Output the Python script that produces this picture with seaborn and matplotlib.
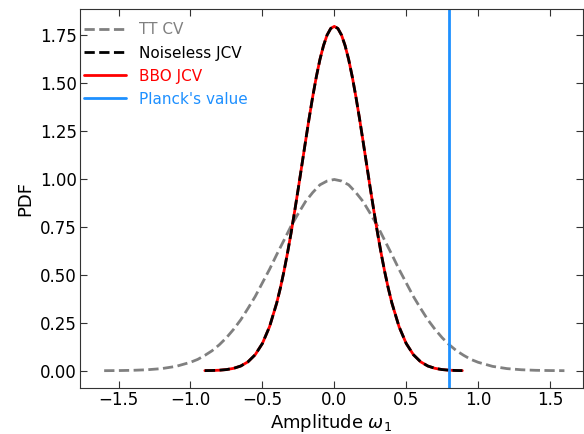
import numpy as np
import pandas as pd
import matplotlib
matplotlib.use("Agg")
import matplotlib.pyplot as plt
import seaborn as sns

# TT cosmic variance curve
tt_x = [-1.6, -1.5, -1.4, -1.3, -1.2, -1.1, -1.0, -0.95, -0.9, -0.85, -0.8, -0.75, -0.7,
        -0.65, -0.6, -0.55, -0.5, -0.45, -0.4, -0.35, -0.3, -0.25, -0.2, -0.15, -0.1,
        -0.05, 0.0, 0.05, 0.1, 0.15, 0.2, 0.25, 0.3, 0.35, 0.4, 0.45, 0.5, 0.55, 0.6,
        0.65, 0.7, 0.75, 0.8, 0.85, 0.9, 0.95, 1.0, 1.1, 1.2, 1.3, 1.4, 1.5, 1.6]
tt_pdf = [0.0003, 0.0009, 0.0022, 0.0051, 0.0111, 0.0228, 0.044, 0.059, 0.080, 0.104,
          0.135, 0.172, 0.216, 0.266, 0.325, 0.387, 0.458, 0.529, 0.606, 0.680, 0.755,
          0.820, 0.882, 0.929, 0.969, 0.989, 0.997, 0.989, 0.969, 0.929, 0.882, 0.820,
          0.755, 0.680, 0.606, 0.529, 0.458, 0.387, 0.325, 0.266, 0.216, 0.172, 0.135,
          0.104, 0.080, 0.059, 0.044, 0.0228, 0.0111, 0.0051, 0.0022, 0.0009, 0.0003]

# joint CV curves (noiseless and BBO lie on top of each other)
jcv_x = [-0.9, -0.85, -0.8, -0.75, -0.7, -0.65, -0.6, -0.55, -0.5, -0.45, -0.4, -0.375,
         -0.35, -0.325, -0.3, -0.275, -0.25, -0.225, -0.2, -0.175, -0.15, -0.125, -0.1,
         -0.075, -0.05, -0.025, 0.0, 0.025, 0.05, 0.075, 0.1, 0.125, 0.15, 0.175, 0.2,
         0.225, 0.25, 0.275, 0.3, 0.325, 0.35, 0.375, 0.4, 0.45, 0.5, 0.55, 0.6, 0.65,
         0.7, 0.75, 0.8, 0.85, 0.89]
noiseless_pdf = [0.0005, 0.0012, 0.0027, 0.0060, 0.0125, 0.0247, 0.0466, 0.0835, 0.142,
                 0.230, 0.354, 0.431, 0.518, 0.615, 0.7205, 0.834, 0.952, 1.074, 1.196,
                 1.316, 1.429, 1.532, 1.622, 1.695, 1.750, 1.784, 1.795, 1.784, 1.750,
                 1.695, 1.622, 1.532, 1.429, 1.316, 1.196, 1.074, 0.952, 0.834, 0.7205,
                 0.615, 0.518, 0.431, 0.354, 0.230, 0.142, 0.0835, 0.0466, 0.0247,
                 0.0125, 0.0060, 0.0027, 0.0012, 0.0006]
bbo_pdf = [0.0005, 0.0012, 0.0027, 0.0060, 0.0125, 0.0247, 0.0466, 0.0835, 0.142,
           0.230, 0.354, 0.431, 0.518, 0.615, 0.7205, 0.834, 0.952, 1.074, 1.196,
           1.316, 1.429, 1.532, 1.622, 1.695, 1.750, 1.784, 1.795, 1.784, 1.750,
           1.695, 1.622, 1.532, 1.429, 1.316, 1.196, 1.074, 0.952, 0.834, 0.7205,
           0.615, 0.518, 0.431, 0.354, 0.230, 0.142, 0.0835, 0.0466, 0.0247,
           0.0125, 0.0060, 0.0027, 0.0012, 0.0006]
planck_value = 0.8

sns.set_style("ticks")
plt.rcParams['font.family'] = ['DejaVu Sans']

fig = plt.figure(figsize=(5.84, 4.34), dpi=100)
ax = fig.add_axes([0.1365, 0.106, 0.862, 0.873])

sns.lineplot(x=tt_x, y=tt_pdf, ax=ax, color="grey", linestyle="--", linewidth=2, label="TT CV")
sns.lineplot(x=jcv_x, y=bbo_pdf, ax=ax, color="red", linewidth=2, label="BBO JCV", zorder=2)
sns.lineplot(x=jcv_x, y=noiseless_pdf, ax=ax, color="black", linestyle="--", linewidth=2,
             label="Noiseless JCV", zorder=3)
ax.axvline(planck_value, color="dodgerblue", linewidth=2, label="Planck's value")

handles, labels = ax.get_legend_handles_labels()
order = [labels.index(l) for l in ["TT CV", "Noiseless JCV", "BBO JCV", "Planck's value"]]
leg = ax.legend([handles[i] for i in order], [labels[i] for i in order],
                loc="upper left", bbox_to_anchor=(0.0, 0.977), frameon=False, fontsize=11,
                borderaxespad=0.1, borderpad=0.2, handlelength=2.75,
                handletextpad=0.8, labelspacing=0.53,
                labelcolor=["grey", "black", "red", "dodgerblue"])

ax.set_xlim(-1.77, 1.73)
ax.set_ylim(-0.09, 1.885)
ax.set_xticks([-1.5, -1.0, -0.5, 0.0, 0.5, 1.0, 1.5])
ax.set_yticks([0.0, 0.25, 0.5, 0.75, 1.0, 1.25, 1.5, 1.75])
ax.yaxis.set_major_formatter(matplotlib.ticker.FormatStrFormatter('%.2f'))
ax.tick_params(direction="in", top=True, right=True, labelsize=12, length=5,
               pad=2, labelcolor="black", color="#333333")
ax.set_xlabel(r"Amplitude $\omega_1$", fontsize=13, color="black", labelpad=2)
ax.set_ylabel("PDF", fontsize=13, color="black")
for s in ax.spines.values():
    s.set_color("#333333")

fig.savefig("out.png", dpi=100)
